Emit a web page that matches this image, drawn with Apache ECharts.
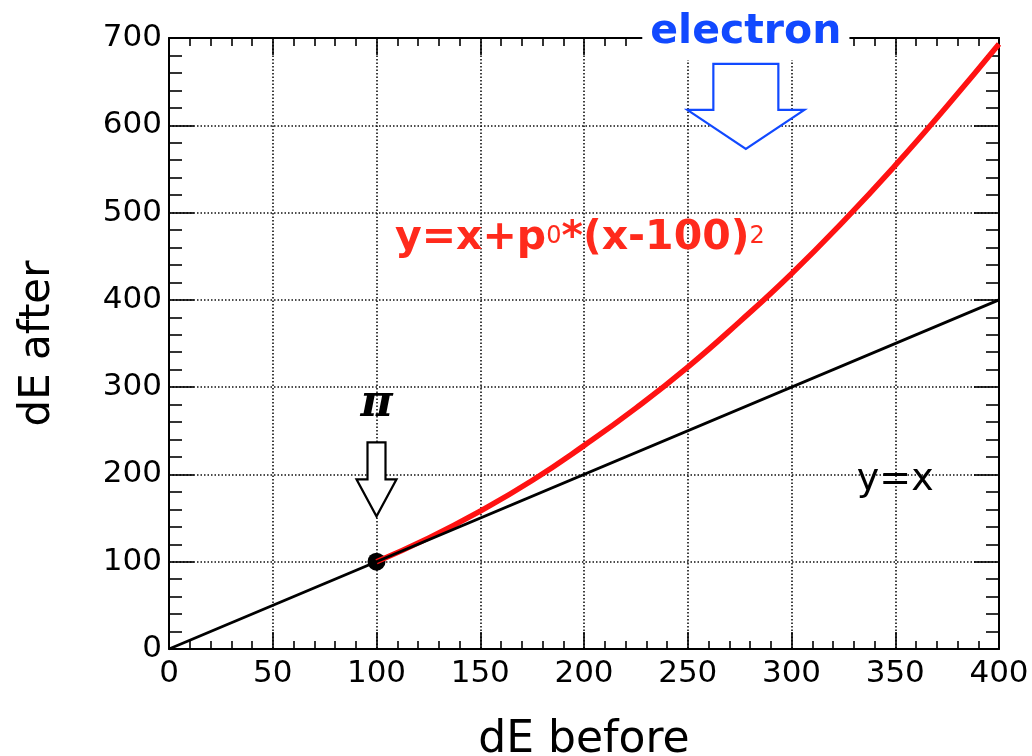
<!DOCTYPE html>
<html>
<head>
<meta charset="utf-8">
<script src="https://cdn.jsdelivr.net/npm/echarts@6/dist/echarts.min.js"></script>
<style>
  html, body { margin: 0; padding: 0; background: #ffffff; }
  #chart { width: 1032px; height: 756px; }
</style>
</head>
<body>
<div id="chart"></div>
<script>
// Axis tick values
const xTicks = [0, 50, 100, 150, 200, 250, 300, 350, 400];
const yTicks = [0, 100, 200, 300, 400, 500, 600, 700];

// Reference line y = x
const diagX = [0, 400];
const diagY = [0, 400];

// Corrected response y = x + p0*(x-100)^2, sampled along the curve
const curveX = [100, 125, 150, 175, 200, 225, 250, 275, 300, 325, 350, 375, 400];
const curveY = [100, 127, 158, 193, 233, 276, 323, 375, 430, 490, 554, 622, 693];

// Working point (pion)
const pointX = [100];
const pointY = [100];

// Arrow tips, in data units
const arrowTipX = [100, 278];
const arrowTipY = [152, 573];

// Text annotations, anchored at their centres in data units
const noteKeys = ['pi', 'electron', 'formula', 'diag'];
const noteX = [100, 278, 198, 350];
const noteY = [280, 707, 470, 194];

const FONT = '"DejaVu Sans", "Liberation Sans", sans-serif';
const BLUE = '#1149ff';
const RED = '#ff1212';

const noteText = {
  pi: 'π',
  electron: 'electron',
  formula: '{m|y=x+p}{s|0}{m|*(x-100)}{s|2}',
  diag: 'y=x'
};
const noteStyle = {
  pi: { fill: '#000', fontSize: 44, fontWeight: 'bold', fontStyle: 'italic', fontFamily: '"DejaVu Serif", "Liberation Serif", serif' },
  electron: { fill: BLUE, fontSize: 41, fontWeight: 'bold', fontFamily: FONT, backgroundColor: '#fff', padding: [8, 8, 7, 8] },
  formula: {
    fill: '#ff2a1c', fontFamily: FONT,
    rich: {
      m: { fontSize: 41, fontWeight: 'bold', fill: '#ff2a1c', fontFamily: FONT },
      s: { fontSize: 24, fill: '#ff2a1c', fontFamily: FONT, padding: [0, 0, 4, 0] }
    }
  },
  diag: { fill: '#000', fontSize: 38, fontFamily: FONT }
};

// Hollow block arrows: shaft width, shaft length, head width, head height in px
const arrowShape = [
  { sw: 18, sl: 37, hw: 40, hh: 37, color: '#000' },
  { sw: 65, sl: 46, hw: 117, hh: 39, color: BLUE }
];

function pairs(xs, ys) { return xs.map((x, i) => [x, ys[i]]); }

const tickCommon = (majorLen, minorLen) => ({
  axisLine: { show: true, onZero: false, lineStyle: { color: '#000', width: 2 } },
  axisTick: { show: true, inside: true, length: majorLen, lineStyle: { color: '#000', width: 1.6 } },
  minorTick: { show: true, splitNumber: 5, length: minorLen, lineStyle: { color: '#000', width: 1.6 } }
});

const gridDots = { show: true, lineStyle: { color: '#111', width: 1.6, type: [1.5, 2] } };

const chart = echarts.init(document.getElementById('chart'), null, { renderer: 'canvas' });

chart.setOption({
  animation: false,
  backgroundColor: '#fff',
  grid: { left: 169, right: 33, top: 38, bottom: 107, containLabel: false, outerBoundsMode: 'none' },
  xAxis: [
    Object.assign({
      type: 'value', position: 'bottom',
      min: xTicks[0], max: xTicks[xTicks.length - 1], interval: xTicks[1] - xTicks[0],
      name: 'dE before', nameLocation: 'middle', nameGap: 70,
      nameTextStyle: { fontSize: 44, fontFamily: FONT, color: '#000' },
      axisLabel: { fontSize: 31, fontFamily: FONT, color: '#000', margin: 9 },
      splitLine: gridDots
    }, tickCommon(17, 8)),
    Object.assign({
      type: 'value', position: 'top',
      min: xTicks[0], max: xTicks[xTicks.length - 1], interval: xTicks[1] - xTicks[0],
      axisLabel: { show: false }, splitLine: { show: false }
    }, tickCommon(17, 8))
  ],
  yAxis: [
    Object.assign({
      type: 'value', position: 'left',
      min: yTicks[0], max: yTicks[yTicks.length - 1], interval: yTicks[1] - yTicks[0],
      name: 'dE after', nameLocation: 'middle', nameGap: 110,
      nameTextStyle: { fontSize: 42, fontFamily: FONT, color: '#000' },
      axisLabel: { fontSize: 31, fontFamily: FONT, color: '#000', margin: 7 },
      splitLine: gridDots
    }, tickCommon(25, 13)),
    Object.assign({
      type: 'value', position: 'right',
      min: yTicks[0], max: yTicks[yTicks.length - 1], interval: yTicks[1] - yTicks[0],
      axisLabel: { show: false }, splitLine: { show: false }
    }, tickCommon(25, 13))
  ],
  series: [
    {
      name: 'corrected', type: 'line', smooth: true, symbol: 'none',
      data: pairs(curveX, curveY),
      lineStyle: { color: RED, width: 5.5 }
    },
    {
      name: 'y=x', type: 'line', symbol: 'none',
      data: pairs(diagX, diagY),
      lineStyle: { color: '#000', width: 2.8 }
    },
    {
      name: 'point', type: 'scatter', symbol: 'circle', symbolSize: 18,
      data: pairs(pointX, pointY),
      itemStyle: { color: '#000', opacity: 1 }
    },
    {
      name: 'arrows', type: 'custom',
      data: pairs(arrowTipX, arrowTipY),
      renderItem: function (params, api) {
        const tip = api.coord([api.value(0), api.value(1)]);
        const s = arrowShape[params.dataIndex];
        const tx = tip[0], ty = tip[1];
        const neck = ty - s.hh, top = neck - s.sl;
        return {
          type: 'polygon',
          shape: { points: [
            [tx - s.sw / 2, top], [tx + s.sw / 2, top], [tx + s.sw / 2, neck],
            [tx + s.hw / 2, neck], [tx, ty], [tx - s.hw / 2, neck], [tx - s.sw / 2, neck]
          ] },
          style: { fill: '#fff', stroke: s.color, lineWidth: 2.2 }
        };
      }
    },
    {
      name: 'notes', type: 'custom',
      data: pairs(noteX, noteY),
      renderItem: function (params, api) {
        const p = api.coord([api.value(0), api.value(1)]);
        const key = noteKeys[params.dataIndex];
        return {
          type: 'text', x: p[0], y: p[1],
          style: Object.assign({ text: noteText[key], align: 'center', verticalAlign: 'middle' }, noteStyle[key])
        };
      }
    }
  ]
});
</script>
</body>
</html>
